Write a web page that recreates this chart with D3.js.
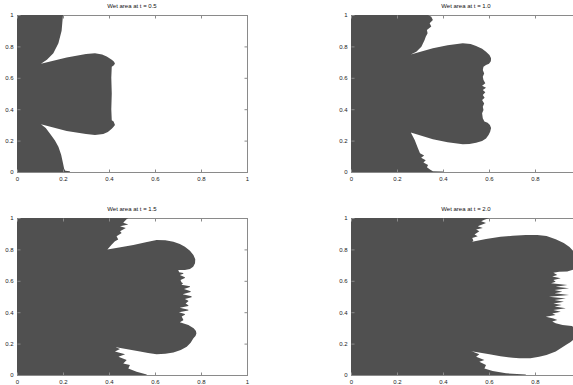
<!DOCTYPE html>
<html>
<head>
<meta charset="utf-8">
<script src="https://cdn.jsdelivr.net/npm/d3@7/dist/d3.min.js"></script>
<style>
  body { margin: 0; background: #fff; }
  text { font-family: "Liberation Sans", Arial, sans-serif; }
</style>
</head>
<body>
<svg id="chart" width="573" height="385"></svg>
<script>
// times shown in the four panel titles
const times = ["0.5", "1.0", "1.5", "2.0"];
const tickValues = [0, 0.2, 0.4, 0.6, 0.8, 1];

// wet-area outlines [x, y], traced from the top-left corner round to the bottom-left corner
const wet05 = [
  [0, 1], [0.2, 1], [0.197, 0.95], [0.194, 0.9], [0.18, 0.82], [0.158, 0.757], [0.13, 0.715], [0.104, 0.69],
  [0.216, 0.73], [0.3, 0.752], [0.339, 0.756], [0.37, 0.748], [0.39, 0.735], [0.412, 0.715], [0.422, 0.703],
  [0.426, 0.69], [0.42, 0.678], [0.412, 0.671], [0.41, 0.6], [0.412, 0.5], [0.41, 0.4], [0.412, 0.33],
  [0.42, 0.322], [0.426, 0.3], [0.42, 0.288], [0.412, 0.276], [0.395, 0.255], [0.375, 0.242], [0.339, 0.236],
  [0.3, 0.242], [0.216, 0.261], [0.104, 0.304], [0.125, 0.28], [0.143, 0.246], [0.165, 0.2], [0.18, 0.161],
  [0.192, 0.11], [0.2, 0.055], [0.205, 0.02], [0.21, 0.008], [0.23, 0.005], [0.23, 0], [0, 0]
];
const wet10 = [
  [0, 1], [0.335, 1], [0.349, 0.989], [0.356, 0.968], [0.342, 0.947], [0.349, 0.926], [0.33, 0.904],
  [0.333, 0.883], [0.325, 0.862], [0.32, 0.841], [0.306, 0.798], [0.284, 0.766], [0.26, 0.749],
  [0.356, 0.788], [0.42, 0.808], [0.486, 0.82], [0.52, 0.815], [0.544, 0.803], [0.57, 0.785],
  [0.587, 0.766], [0.602, 0.745], [0.609, 0.724], [0.608, 0.705], [0.6, 0.69], [0.587, 0.682],
  [0.576, 0.671], [0.573, 0.65], [0.579, 0.628], [0.573, 0.607], [0.576, 0.586], [0.584, 0.565],
  [0.57, 0.55], [0.587, 0.537], [0.573, 0.522], [0.584, 0.508], [0.573, 0.49], [0.581, 0.473],
  [0.57, 0.459], [0.579, 0.437], [0.573, 0.416], [0.576, 0.395], [0.57, 0.374], [0.573, 0.342],
  [0.58, 0.321], [0.594, 0.313], [0.604, 0.3], [0.609, 0.28], [0.605, 0.257], [0.598, 0.236],
  [0.587, 0.214], [0.57, 0.198], [0.544, 0.187], [0.515, 0.179], [0.486, 0.176], [0.42, 0.19],
  [0.356, 0.208], [0.26, 0.251], [0.277, 0.204], [0.291, 0.151], [0.3, 0.12], [0.318, 0.105],
  [0.305, 0.09], [0.325, 0.075], [0.315, 0.06], [0.335, 0.045], [0.33, 0.03], [0.345, 0.015],
  [0.356, 0.005], [0.4, 0.003], [0.4, 0], [0, 0]
];
const wet15 = [
  [0, 1], [0.484, 1], [0.475, 0.99], [0.462, 0.969], [0.484, 0.958], [0.448, 0.948], [0.473, 0.937],
  [0.448, 0.916], [0.455, 0.905], [0.433, 0.884], [0.44, 0.863], [0.426, 0.852], [0.412, 0.831], [0.393, 0.8],
  [0.45, 0.814], [0.506, 0.828], [0.56, 0.846], [0.607, 0.86], [0.645, 0.858], [0.68, 0.849],
  [0.708, 0.835], [0.73, 0.817], [0.752, 0.792], [0.767, 0.764], [0.775, 0.737], [0.774, 0.711],
  [0.766, 0.69], [0.752, 0.675], [0.73, 0.669], [0.701, 0.669], [0.705, 0.655], [0.723, 0.65],
  [0.723, 0.645], [0.708, 0.637], [0.73, 0.623], [0.73, 0.618], [0.711, 0.605], [0.715, 0.59],
  [0.722, 0.584], [0.715, 0.575], [0.752, 0.565], [0.752, 0.56], [0.726, 0.548], [0.755, 0.533],
  [0.755, 0.528], [0.72, 0.514], [0.759, 0.501], [0.759, 0.496], [0.73, 0.484], [0.745, 0.473],
  [0.745, 0.469], [0.733, 0.456], [0.745, 0.444], [0.745, 0.44], [0.708, 0.429], [0.745, 0.416],
  [0.745, 0.411], [0.704, 0.399], [0.73, 0.388], [0.73, 0.384], [0.716, 0.372], [0.723, 0.352],
  [0.723, 0.348], [0.708, 0.336], [0.745, 0.318], [0.768, 0.297], [0.778, 0.28], [0.78, 0.265],
  [0.776, 0.248], [0.767, 0.234], [0.755, 0.205], [0.738, 0.18], [0.712, 0.16], [0.68, 0.144],
  [0.645, 0.135], [0.607, 0.132], [0.57, 0.14], [0.535, 0.149], [0.419, 0.18], [0.404, 0.191],
  [0.448, 0.166], [0.426, 0.149], [0.47, 0.132], [0.441, 0.117], [0.477, 0.096], [0.462, 0.074],
  [0.491, 0.064], [0.484, 0.042], [0.52, 0.021], [0.564, 0.003], [0.564, 0], [0, 0]
];
const wet20 = [
  [0, 1], [0.602, 1], [0.58, 0.989], [0.566, 0.979], [0.587, 0.968], [0.551, 0.947], [0.573, 0.937],
  [0.544, 0.926], [0.558, 0.916], [0.537, 0.895], [0.551, 0.884], [0.527, 0.873], [0.532, 0.857], [0.527, 0.849],
  [0.587, 0.866], [0.65, 0.88], [0.703, 0.887], [0.76, 0.892], [0.81, 0.892], [0.85, 0.885],
  [0.89, 0.865], [0.925, 0.84], [0.95, 0.815], [0.97, 0.785], [0.985, 0.75], [0.99, 0.72],
  [0.985, 0.69], [0.965, 0.67], [0.94, 0.66], [0.905, 0.658], [0.88, 0.652], [0.897, 0.637],
  [0.875, 0.628], [0.912, 0.616], [0.88, 0.605], [0.89, 0.594], [0.87, 0.585], [0.941, 0.573],
  [0.89, 0.562], [0.948, 0.552], [0.885, 0.542], [0.919, 0.531], [0.885, 0.52], [0.948, 0.51],
  [0.861, 0.499], [0.934, 0.488], [0.885, 0.478], [0.926, 0.467], [0.88, 0.456], [0.916, 0.446],
  [0.885, 0.436], [0.934, 0.425], [0.88, 0.414], [0.912, 0.403], [0.875, 0.392], [0.89, 0.382],
  [0.847, 0.371], [0.88, 0.36], [0.897, 0.35], [0.875, 0.34], [0.89, 0.329], [0.92, 0.318],
  [0.96, 0.312], [0.985, 0.29], [0.99, 0.26], [0.975, 0.235], [0.955, 0.21], [0.934, 0.191],
  [0.89, 0.149], [0.85, 0.127], [0.818, 0.117], [0.78, 0.107], [0.732, 0.107], [0.703, 0.11],
  [0.65, 0.12], [0.602, 0.132], [0.53, 0.149], [0.522, 0.153], [0.558, 0.132], [0.544, 0.117],
  [0.58, 0.096], [0.558, 0.085], [0.587, 0.064], [0.58, 0.042], [0.616, 0.025], [0.674, 0.011],
  [0.76, 0.003], [0.76, 0], [0, 0]
];

const panels = [
  { t: times[0], data: wet05, left: 17, top: 15 },
  { t: times[1], data: wet10, left: 351, top: 15 },
  { t: times[2], data: wet15, left: 17, top: 218 },
  { t: times[3], data: wet20, left: 351, top: 218 }
];
const pw = 230, ph = 157;
const W = 573;
const svg = d3.select("#chart");
const fmt = d3.format("~g");

panels.forEach((p, i) => {
  const x = d3.scaleLinear().domain([0, 1]).range([p.left, p.left + pw]);
  const y = d3.scaleLinear().domain([0, 1]).range([p.top + ph, p.top]);
  const g = svg.append("g");

  // frame
  g.append("rect")
    .attr("x", p.left + 0.5).attr("y", p.top + 0.5)
    .attr("width", pw).attr("height", ph)
    .attr("fill", "none").attr("stroke", "#8a8a8a").attr("stroke-width", 1);

  g.append("clipPath").attr("id", "clip" + i)
    .append("rect")
    .attr("x", p.left).attr("y", p.top)
    .attr("width", pw + 1).attr("height", ph + 1);

  const line = d3.line().x(d => x(d[0])).y(d => y(d[1]));
  g.append("path")
    .datum(p.data)
    .attr("d", d => line(d) + "Z")
    .attr("clip-path", "url(#clip" + i + ")")
    .attr("fill", "#505050");

  // ticks on every side, labels on left and bottom
  const axes = [
    [d3.axisBottom(x), `translate(0,${p.top + ph + 0.5})`, true],
    [d3.axisTop(x), `translate(0,${p.top + 0.5})`, false],
    [d3.axisLeft(y), `translate(${p.left + 0.5},0)`, true],
    [d3.axisRight(y), `translate(${p.left + pw + 0.5},0)`, false]
  ];
  axes.forEach(([ax, tr, labels]) => {
    ax.tickValues(tickValues).tickSizeInner(-3).tickSizeOuter(0)
      .tickPadding(4).tickFormat(labels ? fmt : "");
    const a = g.append("g").attr("transform", tr).call(ax);
    a.select(".domain").remove();
    a.selectAll("line").attr("stroke", "#8a8a8a");
    a.selectAll("text").attr("font-size", 6).attr("fill", "#222")
      .attr("font-family", "'Liberation Sans', Arial, sans-serif");
    // labels that fall past the window edge are not shown in the original
    a.selectAll(".tick").filter(d => ax.scale()(d) > W - 3).select("text").remove();
  });

  g.append("text")
    .attr("x", p.left + pw / 2).attr("y", p.top - 7)
    .attr("text-anchor", "middle")
    .attr("font-size", 6).attr("fill", "#111")
    .text("Wet area at  t = " + p.t);
});
</script>
</body>
</html>
